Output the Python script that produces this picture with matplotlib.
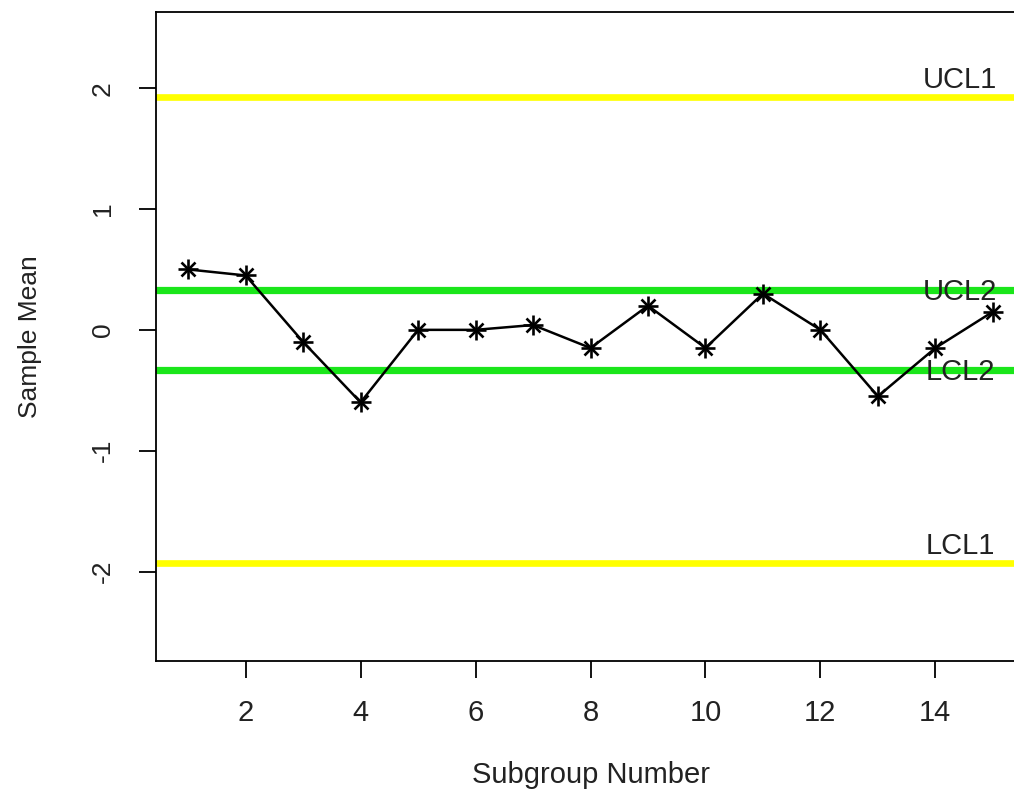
import matplotlib
matplotlib.use("Agg")
import matplotlib.pyplot as plt
import numpy as np

plt.rcParams['font.family'] = ['Liberation Sans', 'DejaVu Sans']
plt.rcParams['axes.unicode_minus'] = False

subgroup = np.arange(1, 16)
means = [0.5, 0.45, -0.1, -0.6, 0.0, 0.0, 0.04, -0.15, 0.2, -0.15, 0.3, 0.0, -0.55, -0.15, 0.15]
ucl1, lcl1 = 1.93, -1.93
ucl2, lcl2 = 0.33, -0.335

fig = plt.figure(figsize=(10.14, 7.98), dpi=100)
ax = fig.add_axes([156/1014, 137/798, (1025-156)/1014, (661-12)/798])

ax.axhline(ucl1, color='#ffff00', lw=4.8, zorder=1)
ax.axhline(lcl1, color='#ffff00', lw=4.8, zorder=1)
ax.axhline(ucl2, color='#1ae61a', lw=5.2, zorder=1)
ax.axhline(lcl2, color='#1ae61a', lw=5.2, zorder=1)

ax.plot(subgroup, means, color='black', lw=1.8, zorder=3)
ax.plot(subgroup, means, ls='none', marker='+', ms=15, mew=1.9, color='black', zorder=4)
ax.plot(subgroup, means, ls='none', marker='x', ms=10, mew=1.9, color='black', zorder=4)

txt = dict(fontsize=21, color='#222222', ha='center', va='center', zorder=5)
ax.text(14.43, 2.07, 'UCL1', **txt)
ax.text(14.43, 0.31, 'UCL2', **txt)
ax.text(14.43, -0.35, 'LCL2', **txt)
ax.text(14.43, -1.79, 'LCL1', **txt)

ax.set_xlim(0.44, 15.56)
ax.set_ylim(-2.74, 2.63)
ax.set_xticks([2, 4, 6, 8, 10, 12, 14])
ax.set_yticks([-2, -1, 0, 1, 2])
ax.tick_params(direction='out', length=12.5, width=1.3, colors='black', labelcolor='#222222')
ax.tick_params(axis='x', labelsize=21, pad=15)
ax.tick_params(axis='y', labelsize=19, pad=17)
for lab in ax.get_yticklabels():
    lab.set_rotation(90)
    lab.set_va('center')
for s in ax.spines.values():
    s.set_linewidth(1.3)

ax.set_xlabel('Subgroup Number', fontsize=21, color='#222222', va='center')
ax.set_ylabel('Sample Mean', fontsize=19, color='#222222', va='center')
ax.xaxis.set_label_coords(0.5, -0.176)
ax.yaxis.set_label_coords(-0.145, 0.5)

fig.savefig('out.png', dpi=100)
